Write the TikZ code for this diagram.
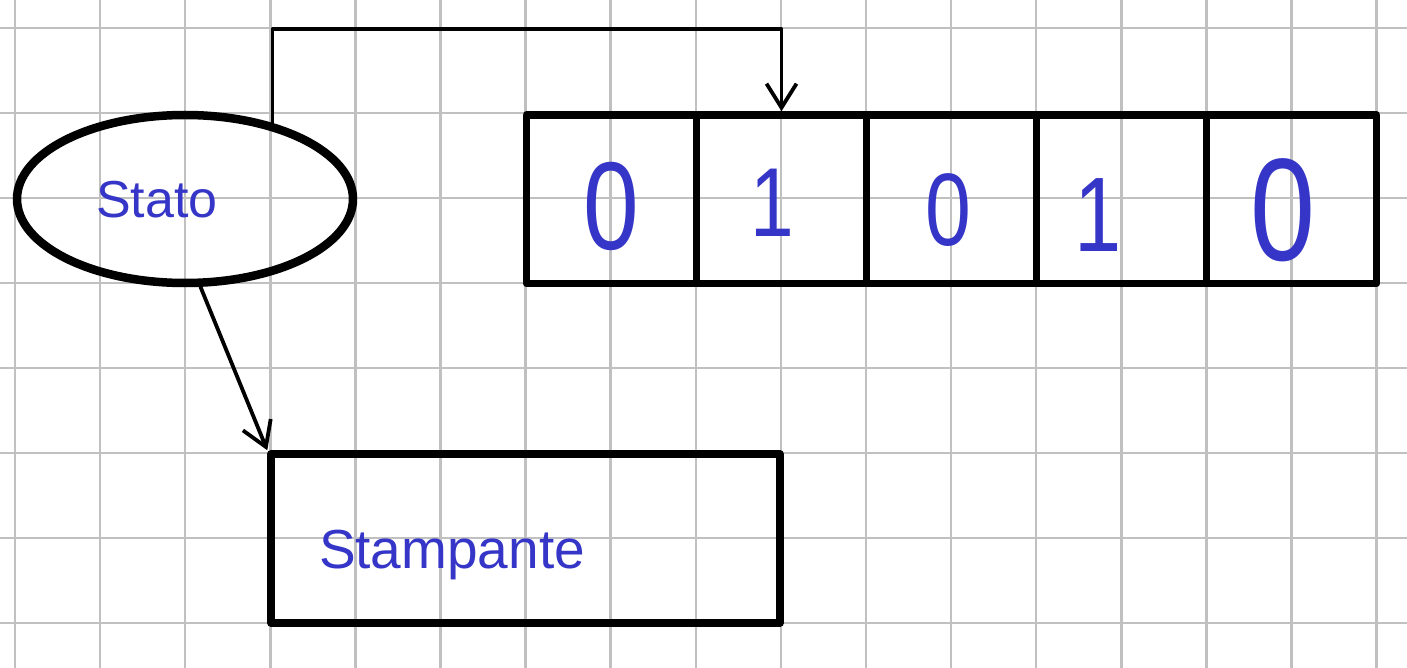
\documentclass[tikz,border=0pt]{standalone}
\usepackage{fontspec}
\setmainfont{Liberation Sans}
\usetikzlibrary{shapes.geometric,arrows.meta}
\definecolor{ink}{RGB}{53,53,200}
\definecolor{gridc}{RGB}{192,192,192}
\tikzset{
  gridline/.style={draw=gridc, line width=2.5pt},
  bold/.style={draw=black, line width=7.5pt, line join=round},
  cellbox/.style={bold, rectangle, minimum width=170pt, minimum height=168.5pt, inner sep=0pt},
  conn/.style={draw=black, line width=3.8pt, line cap=round, line join=round,
    -{Straight Barb[length=24pt,width=30pt,line width=3.8pt]}},
  hand/.style={text=ink, inner sep=0pt},
}
\newcommand{\narrow}[1]{\scalebox{0.8}[1]{#1}}
\begin{document}
\begin{tikzpicture}[x=1pt,y=-1pt]
\useasboundingbox (0,0) rectangle (1407,668);
\fill[white] (0,0) rectangle (1407,668);
% grid
\foreach \i in {0,...,16} \draw[gridline] ({15+85.1*\i},0) -- ({15+85.1*\i},668);
\foreach \j in {0,...,7} \draw[gridline] (0,{28+85*\j}) -- (1407,{28+85*\j});
% state ellipse
\node[ellipse, draw=black, line width=8.5pt, minimum width=336pt, minimum height=168pt, inner sep=0pt] (stato) at (185,199) {};
\node[hand, anchor=base, font=\fontsize{52}{52}\selectfont] (statot) at (157,218) {Stato};
% tape
\foreach \k in {1,...,5} \node[cellbox] (c\k) at ({441.5+170*\k},199.25) {};
\node[hand, font=\fontsize{125}{125}\selectfont] (d1) at (611,206) {\narrow{0}};
\node[hand, font=\fontsize{98}{98}\selectfont] (d2) at (772,203) {\narrow{1}};
\node[hand, font=\fontsize{103}{103}\selectfont] (d3) at (948,210) {\narrow{0}};
\node[hand, font=\fontsize{106}{106}\selectfont] (d4) at (1098,215) {\narrow{1}};
\node[hand, font=\fontsize{146}{146}\selectfont] (d5) at (1283,210) {\narrow{0}};
% printer
\node[bold, rectangle, minimum width=509pt, minimum height=169pt, inner sep=0pt] (stamp) at (525.5,538.5) {};
\node[hand, anchor=base, font=\fontsize{55}{55}\selectfont] (stampt) at (452,568) {Stampante};
% connectors
\coordinate (toprow) at (0,29);
\draw[conn] (stato.41.5) |- (c2.north |- toprow) -- (c2.north);
\draw[conn] (stato.-80) -- (stamp.north west);
\end{tikzpicture}
\end{document}
